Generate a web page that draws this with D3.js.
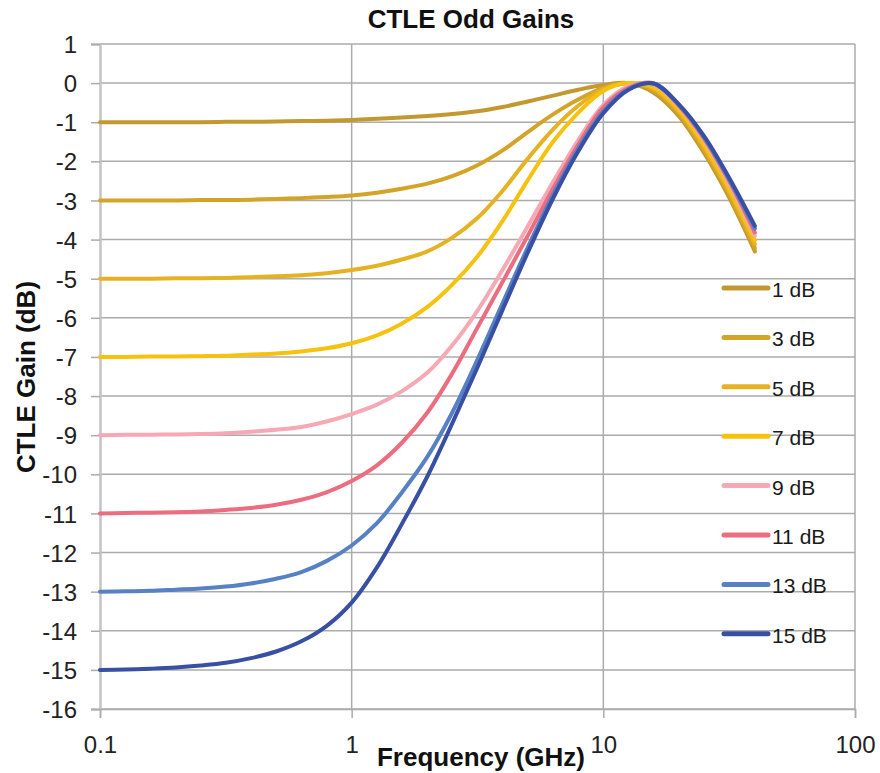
<!DOCTYPE html>
<html><head><meta charset="utf-8">
<script src="https://cdn.jsdelivr.net/npm/d3@7"></script>
<style>
html,body{margin:0;padding:0;background:#fff;}
svg{display:block;font-family:"Liberation Sans",Arial,sans-serif;}
</style></head>
<body>
<svg id="chart" width="880" height="773"></svg>
<script>
// ---- data ----
const freqs = [0.1, 0.126, 0.158, 0.2, 0.251, 0.316, 0.398, 0.501, 0.631, 0.794, 1, 1.26, 1.58, 2, 2.51, 3.16, 3.98, 5.01, 6.31, 7.94, 10, 12.6, 15.8, 20, 25.1, 31.6, 40];
const gain1dB  = [-1.00,-1.00,-1.00,-1.00,-1.00,-0.99,-0.99,-0.98,-0.97,-0.96,-0.94,-0.91,-0.88,-0.84,-0.79,-0.72,-0.61,-0.47,-0.32,-0.17,-0.05,0.00,-0.24,-0.85,-1.78,-2.92,-4.30];
const gain3dB  = [-3.00,-3.00,-3.00,-3.00,-2.99,-2.99,-2.98,-2.96,-2.94,-2.91,-2.87,-2.80,-2.70,-2.57,-2.38,-2.10,-1.72,-1.25,-0.80,-0.42,-0.12,0.00,-0.18,-0.78,-1.70,-2.84,-4.22];
const gain5dB  = [-5.00,-5.00,-5.00,-4.99,-4.99,-4.98,-4.96,-4.94,-4.91,-4.86,-4.78,-4.67,-4.51,-4.30,-3.95,-3.45,-2.75,-1.93,-1.18,-0.58,-0.15,0.00,-0.14,-0.73,-1.63,-2.76,-4.12];
const gain7dB  = [-7.00,-7.00,-6.99,-6.99,-6.98,-6.97,-6.94,-6.91,-6.86,-6.78,-6.65,-6.45,-6.15,-5.72,-5.15,-4.43,-3.52,-2.48,-1.50,-0.76,-0.20,0.00,-0.10,-0.68,-1.56,-2.68,-4.02];
const gain9dB  = [-9.00,-8.99,-8.99,-8.98,-8.97,-8.95,-8.91,-8.86,-8.79,-8.65,-8.46,-8.22,-7.88,-7.40,-6.70,-5.82,-4.77,-3.66,-2.53,-1.46,-0.56,-0.08,-0.03,-0.60,-1.45,-2.56,-3.90];
const gain11dB = [-11.00,-10.99,-10.98,-10.97,-10.95,-10.91,-10.86,-10.78,-10.65,-10.46,-10.17,-9.77,-9.20,-8.42,-7.42,-6.25,-5.08,-3.90,-2.70,-1.58,-0.62,-0.12,0.00,-0.58,-1.41,-2.50,-3.82];
const gain13dB = [-13.00,-12.99,-12.98,-12.95,-12.92,-12.87,-12.79,-12.67,-12.50,-12.22,-11.82,-11.25,-10.47,-9.55,-8.42,-7.07,-5.62,-4.20,-2.85,-1.68,-0.72,-0.15,-0.01,-0.56,-1.38,-2.46,-3.72];
const gain15dB = [-15.00,-14.99,-14.97,-14.94,-14.89,-14.82,-14.70,-14.53,-14.27,-13.88,-13.28,-12.38,-11.28,-10.05,-8.70,-7.27,-5.79,-4.33,-2.95,-1.75,-0.77,-0.17,-0.01,-0.55,-1.35,-2.42,-3.65];
const seriesNames = ["1 dB","3 dB","5 dB","7 dB","9 dB","11 dB","13 dB","15 dB"];
const seriesValues = [gain1dB, gain3dB, gain5dB, gain7dB, gain9dB, gain11dB, gain13dB, gain15dB];
const seriesColors = ["#C49830","#D4A428","#E4B223","#F6C20E","#F6A8B4","#EC6C80","#5880C4","#3850A4"];
const xTicks = [0.1, 1, 10, 100];
const xTickLabels = ["0.1","1","10","100"];
const yTicks = d3.range(-16, 2, 1);

// ---- layout ----
const svg = d3.select("#chart");
const L = 100, R = 855, T = 44, B = 709;
const x = d3.scaleLog().domain([0.1, 100]).range([L, R]);
const y = d3.scaleLinear().domain([-16, 1]).range([B, T]);
const gridColor = "#ababab";

// gridlines
svg.append("g").selectAll("line").data(yTicks).join("line")
  .attr("x1", L).attr("x2", R)
  .attr("y1", d => y(d)).attr("y2", d => y(d))
  .attr("stroke", gridColor).attr("stroke-width", 1.5);
svg.append("g").selectAll("line").data(xTicks.slice(1)).join("line")
  .attr("x1", d => x(d)).attr("x2", d => x(d))
  .attr("y1", T).attr("y2", B)
  .attr("stroke", gridColor).attr("stroke-width", 1.5);

// y axis
const yAxis = d3.axisLeft(y).tickValues(yTicks).tickSize(9).tickPadding(14)
  .tickFormat(d => String(d));
const gy = svg.append("g").attr("transform", `translate(${L},0)`).call(yAxis);
gy.select(".domain").attr("stroke", "#c4c4c4").attr("stroke-width", 2.5);
gy.selectAll(".tick line").attr("stroke", gridColor).attr("stroke-width", 1.5);
gy.selectAll(".tick text").attr("font-size", 24).attr("fill", "#222")
  .attr("font-family", "Liberation Sans, Arial, sans-serif").attr("dy", "0.36em");

// x axis
const xAxis = d3.axisBottom(x).tickValues(xTicks).tickSize(9).tickPadding(18)
  .tickFormat((d, i) => xTickLabels[i]);
const gx = svg.append("g").attr("transform", `translate(0,${B})`).call(xAxis);
gx.select(".domain").attr("stroke", gridColor).attr("stroke-width", 1.5);
gx.selectAll(".tick line").attr("stroke", gridColor).attr("stroke-width", 1.5);
gx.selectAll(".tick text").attr("font-size", 24).attr("fill", "#222")
  .attr("font-family", "Liberation Sans, Arial, sans-serif");

// curves
const line = d3.line().x(d => x(d[0])).y(d => y(d[1])).curve(d3.curveCatmullRom.alpha(0.5));
seriesValues.forEach((vals, i) => {
  svg.append("path")
    .datum(freqs.map((f, j) => [f, vals[j]]))
    .attr("d", line)
    .attr("fill", "none")
    .attr("stroke", seriesColors[i])
    .attr("stroke-width", 4)
    .attr("stroke-linecap", "round")
    .attr("stroke-linejoin", "round");
});

// legend
const lg = svg.append("g");
seriesNames.forEach((name, i) => {
  const ly = 288 + i * 49.4;
  lg.append("line").attr("x1", 724).attr("x2", 768).attr("y1", ly).attr("y2", ly)
    .attr("stroke", seriesColors[i]).attr("stroke-width", 5).attr("stroke-linecap", "round");
  lg.append("text").attr("x", 772).attr("y", ly + 9).text(name)
    .attr("font-size", 21).attr("fill", "#1a1a1a");
});

// titles
svg.append("text").attr("x", 471).attr("y", 28).attr("text-anchor", "middle")
  .attr("font-size", 26).attr("font-weight", "bold").attr("fill", "#111").text("CTLE Odd Gains");
svg.append("text").attr("x", 481).attr("y", 766).attr("text-anchor", "middle")
  .attr("font-size", 26).attr("font-weight", "bold").attr("fill", "#111").text("Frequency (GHz)");
svg.append("text").attr("transform", "translate(35,377) rotate(-90)").attr("text-anchor", "middle")
  .attr("font-size", 26).attr("font-weight", "bold").attr("fill", "#111").text("CTLE Gain (dB)");
</script>
</body></html>
